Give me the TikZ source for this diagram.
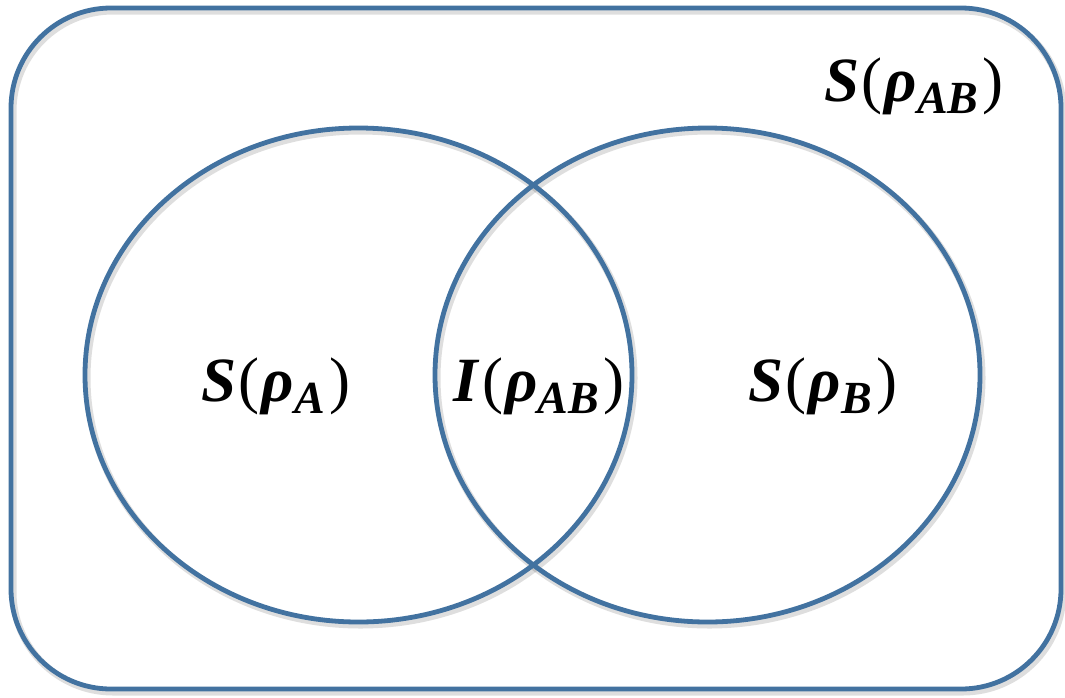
\documentclass[tikz,border=0pt]{standalone}
\usepackage{fontspec}
\setmainfont{Liberation Serif}
\definecolor{vblue}{RGB}{66,114,160}
\newcommand\rlab[2]{\fontsize{63}{65}\selectfont\textbf{\textit{#1}}\kern2pt(\kern2pt\textbf{\textit{ρ}}\raisebox{-0.2em}{\fontsize{46}{46}\selectfont\textbf{\textit{#2}}}\kern4pt)}
\begin{document}
\begin{tikzpicture}[x=1pt,y=-1pt,
  shape line/.style={draw=vblue, line width=4.8pt},
  shadow line/.style={draw=black, opacity=0.13, line width=7pt},
  label text/.style={inner sep=0pt, text=black}]
\useasboundingbox (0,0) rectangle (1065,697);
% soft shadows
\begin{scope}[shift={(2,3)}]
  \draw[shadow line, rounded corners=100pt] (11,8) rectangle (1061,689);
  \draw[shadow line] (358.5,375) ellipse [x radius=273.5, y radius=247];
  \draw[shadow line] (707.5,375) ellipse [x radius=272.5, y radius=247];
\end{scope}
% shapes
\draw[shape line, rounded corners=100pt] (11,8) rectangle (1061,689);
\draw[shape line] (358.5,375) ellipse [x radius=273.5, y radius=247];
\draw[shape line] (707.5,375) ellipse [x radius=272.5, y radius=247];
% labels
\node[label text] (sab) at (914,86) {\rlab{S}{AB}};
\node[label text] (sa) at (276,386) {\rlab{S}{A}};
\node[label text] (iab) at (539,386) {\rlab{I}{AB}};
\node[label text] (sb) at (823,386) {\rlab{S}{B}};
\end{tikzpicture}
\end{document}
